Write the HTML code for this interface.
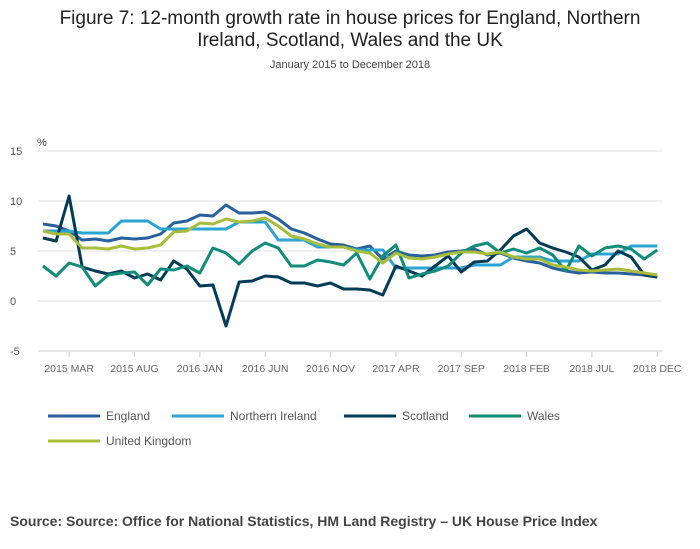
<!DOCTYPE html>
<html><head><meta charset="utf-8"><style>
body{margin:0;background:#fff;font-family:"Liberation Sans",sans-serif;}
#wrap{position:relative;width:700px;height:549px;overflow:hidden}
</style></head><body>
<div id="wrap">
<svg id="chart" width="700" height="549">
<text x="350" y="24" text-anchor="middle" font-size="19" fill="#222">Figure 7: 12-month growth rate in house prices for England, Northern</text>
<text x="350" y="46" text-anchor="middle" font-size="19" fill="#222">Ireland, Scotland, Wales and the UK</text>
<text x="350" y="68" text-anchor="middle" font-size="11" fill="#444">January 2015 to December 2018</text>
<text x="37" y="146" font-size="11" fill="#444">%</text>
<g id="grid"></g><g id="xaxis"></g><g id="series"></g><g id="legend"></g>
<text x="10" y="526" font-size="14" font-weight="bold" fill="#444">Source: Source: Office for National Statistics, HM Land Registry – UK House Price Index</text>
</svg>
</div>
<script>
const yTicks=[15,10,5,0,-5];
const xTickLabels=["2015 MAR","2015 AUG","2016 JAN","2016 JUN","2016 NOV","2017 APR","2017 SEP","2018 FEB","2018 JUL","2018 DEC"];
const xTickIdx=[2,7,12,17,22,27,32,37,42,47];
const seriesNames=["England","Northern Ireland","Scotland","Wales","United Kingdom"];
const england=[7.7,7.5,7.0,6.1,6.2,6.0,6.3,6.2,6.3,6.7,7.8,8.0,8.6,8.5,9.6,8.8,8.8,8.9,8.2,7.2,6.8,6.2,5.7,5.6,5.2,5.5,4.2,5.0,4.6,4.5,4.6,4.9,5.0,5.2,4.6,4.8,4.3,4.0,3.8,3.3,3.0,2.8,2.9,2.8,2.8,2.7,2.6,2.4];
const nireland=[7.0,7.0,7.0,6.8,6.8,6.8,8.0,8.0,8.0,7.2,7.2,7.2,7.2,7.2,7.2,7.9,7.9,7.9,6.1,6.1,6.1,5.4,5.4,5.4,5.1,5.1,5.1,3.3,3.3,3.3,3.3,3.3,3.3,3.6,3.6,3.6,4.4,4.4,4.4,4.0,4.0,4.0,4.7,4.7,4.7,5.5,5.5,5.5];
const scotland=[6.3,6.0,10.5,3.4,3.0,2.7,3.0,2.3,2.7,2.1,4.0,3.2,1.5,1.6,-2.5,1.9,2.0,2.5,2.4,1.8,1.8,1.5,1.8,1.2,1.2,1.1,0.6,3.5,3.0,2.5,3.5,4.5,2.9,3.9,4.0,5.1,6.5,7.2,5.8,5.3,4.9,4.4,3.1,3.6,5.0,4.4,2.6,2.4];
const wales=[3.5,2.5,3.8,3.4,1.5,2.6,2.8,2.9,1.6,3.2,3.1,3.5,2.8,5.3,4.8,3.7,5.0,5.8,5.3,3.5,3.5,4.1,3.9,3.6,4.8,2.2,4.5,5.6,2.3,2.7,3.0,3.5,4.8,5.5,5.8,4.8,5.2,4.8,5.3,4.6,3.0,5.5,4.5,5.3,5.5,5.2,4.2,5.1];
const uk=[7.0,6.7,6.7,5.3,5.3,5.2,5.5,5.2,5.3,5.6,6.9,7.0,7.8,7.7,8.2,7.9,8.0,8.3,7.5,6.5,6.2,5.7,5.4,5.4,5.0,4.8,3.8,4.8,4.3,4.2,4.4,4.7,4.9,4.9,4.7,4.9,4.4,4.2,4.2,3.6,3.4,3.1,3.0,3.1,3.2,3.0,2.8,2.6];
const colors=["#27609b","#2ba3d3","#003c57","#118c7b","#a8bd3a"];
const NS="http://www.w3.org/2000/svg";
const xs=i=>43+13.07*i, ys=v=>301-10*v;
function mk(t,a,p){const e=document.createElementNS(NS,t);for(const k in a)e.setAttribute(k,a[k]);p.appendChild(e);return e;}
const grid=document.getElementById('grid');
yTicks.forEach(v=>{
 const l=mk('line',{x1:38,x2:662,y1:ys(v),y2:ys(v),stroke:v===-5?'#ccc':'#e0e0e0','stroke-width':1},grid);
 
 
 const t=mk('text',{x:10,y:ys(v)+4,'font-size':11,fill:'#555'},grid);
 t.textContent=v;
 
 
});
const xa=document.getElementById('xaxis');
xTickIdx.forEach((m,i)=>{
 const tk=mk('line',{x1:xs(m),x2:xs(m),y1:352,y2:357,stroke:'#ccc'},xa);
 
 
 const t=mk('text',{x:xs(m),y:372,'font-size':10.5,fill:'#666','text-anchor':'middle'},xa);
 t.textContent=xTickLabels[i];
 
 
});
const sg=document.getElementById('series');
[england,nireland,scotland,wales,uk].forEach((d,si)=>{
 const p=mk('polyline',{points:d.map((v,i)=>xs(i).toFixed(1)+','+ys(v).toFixed(1)).join(' '),fill:'none',stroke:colors[si],'stroke-width':3,'stroke-linejoin':'round'},sg);
 
 
});
const lg=document.getElementById('legend');
const lpos=[[48,416],[172,416],[344,416],[469,416],[48,441]];
seriesNames.forEach((n,i)=>{
 const g=mk('g',{},lg);
 
 
 mk('line',{x1:lpos[i][0],x2:lpos[i][0]+52,y1:lpos[i][1],y2:lpos[i][1],stroke:colors[i],'stroke-width':3},g);
 const t=mk('text',{x:lpos[i][0]+58,y:lpos[i][1]+4,'font-size':12,fill:'#555'},g);
 t.textContent=n;
});
</script>
</body></html>
